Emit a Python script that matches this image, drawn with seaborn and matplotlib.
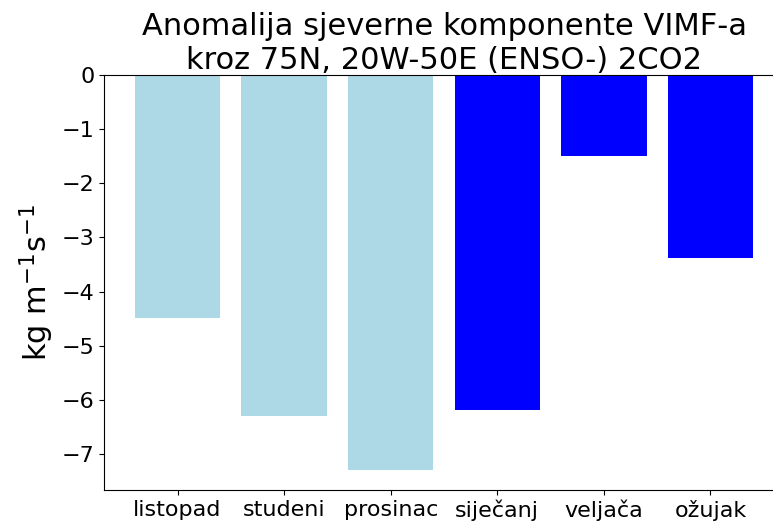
import numpy as np
import pandas as pd
import matplotlib; matplotlib.use("Agg")
import matplotlib.pyplot as plt
import seaborn as sns

months = ["listopad", "studeni", "prosinac", "siječanj", "veljača", "ožujak"]
values = [-4.48, -6.29, -7.30, -6.18, -1.50, -3.38]
colors = ["lightblue", "lightblue", "lightblue", "blue", "blue", "blue"]

df = pd.DataFrame({"mjesec": months, "vimf": values})

plt.rcParams["font.family"] = ["DejaVu Sans"]

fig = plt.figure(figsize=(7.73, 5.26), dpi=100)
# axes reach past the right edge, as in the reference
ax = fig.add_axes([104/773, 36/526, 680/773, 415/526])
sns.barplot(data=df, x="mjesec", y="vimf", hue="mjesec", palette=colors,
            saturation=1, width=0.8, legend=False, ax=ax)
ax.set_xlim(-0.69, 5.69)
ax.set_ylim(-7.665, 0)
ax.set_xlabel("")
ax.set_ylabel(r"kg m$^{-1}$s$^{-1}$", fontsize=22)
ax.set_title("Anomalija sjeverne komponente VIMF-a\nkroz 75N, 20W-50E (ENSO-) 2CO2", fontsize=22, pad=4)
ax.tick_params(labelsize=16)
fig.savefig("out.png", dpi=100)
